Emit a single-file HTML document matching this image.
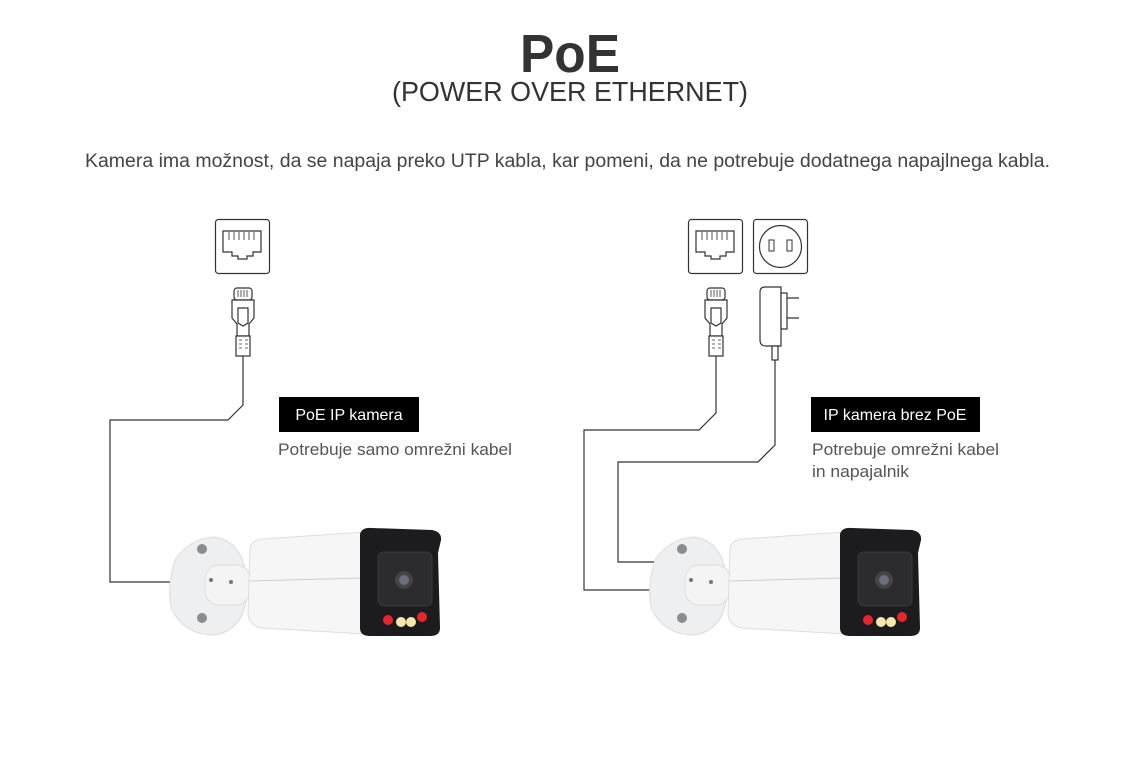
<!DOCTYPE html>
<html><head><meta charset="utf-8"><style>
body{margin:0;background:#fff;width:1140px;height:762px;overflow:hidden;font-family:"Liberation Sans",sans-serif}
</style></head><body>
<svg width="1140" height="762" viewBox="0 0 1140 762" xmlns="http://www.w3.org/2000/svg">
<defs>
<g id="jack">
 <rect x="0.5" y="0.5" width="54" height="54" rx="3" fill="#fff" stroke="#333" stroke-width="1.2"/>
 <path d="M8 12 H46 V33 H38 V37 H32 V40 H23 V37 H17 V33 H8 Z" fill="none" stroke="#333" stroke-width="1.2"/>
 <path d="M14 13 V21 M19 13 V21 M24 13 V21 M29 13 V21 M34 13 V21 M39 13 V21" stroke="#555" stroke-width="1"/>
</g>
<g id="plug" fill="#fff" stroke="#333" stroke-width="1.2">
 <rect x="-9" y="0" width="18" height="12" rx="3"/>
 <path d="M-5 2 V9 M-2 2 V9 M1 2 V9 M4 2 V9" stroke-width="0.8"/>
 <path d="M-11 12 H11 V30 L6 36 V48 H-6 V36 L-11 30 Z"/>
 <path d="M-5 35 V20 H5 V35 L0 38 Z"/>
 <rect x="-7" y="48" width="14" height="20"/>
 <path d="M-4 52 h3 M-4 56 h3 M-4 60 h3 M2 52 h3 M2 56 h3 M2 60 h3" stroke-width="0.8"/>
</g>
<g id="cam">
 <path d="M175 560 Q190 538 215 537 Q242 542 246 575 L246 600 Q242 630 215 635 Q185 635 172 610 Q166 590 175 560 Z" fill="#eeeff1" stroke="#ddd"/>
 <circle cx="202" cy="549" r="5" fill="#8a8c90"/>
 <circle cx="202" cy="618" r="5" fill="#8a8c90"/>
 <rect x="205" y="565" width="45" height="40" rx="14" fill="#f4f4f5" stroke="#ddd"/>
 <circle cx="211" cy="580" r="2" fill="#777"/><circle cx="231" cy="582" r="2" fill="#777"/>
 <path d="M250 548 Q252 540 262 539 L365 532 L365 634 L262 628 Q250 626 248 615 Z" fill="#f6f6f7" stroke="#ddd"/>
 <path d="M250 581 L362 578" stroke="#ccc"/>
 <path d="M360 534 Q362 527 372 528 L432 530 Q442 532 441 540 L438 553 L440 628 Q440 636 430 636 L370 636 Q360 636 360 628 Z" fill="#1c1c1e"/>
 <rect x="378" y="552" width="54" height="54" rx="6" fill="#2c2c2f" stroke="#3a3a3d"/>
 <circle cx="404" cy="580" r="9" fill="#444"/>
 <circle cx="404" cy="580" r="5" fill="#6a7080"/>
 <circle cx="388" cy="620" r="5" fill="#e8262a"/>
 <circle cx="401" cy="622" r="5" fill="#f6e8a8"/>
 <circle cx="411" cy="622" r="5" fill="#f6e8a8"/>
 <circle cx="422" cy="617" r="5" fill="#e8262a"/>
</g>
</defs>

<text x="520" y="72" font-size="54" font-weight="bold" fill="#333" textLength="100" lengthAdjust="spacingAndGlyphs">PoE</text>
<text x="392" y="101" font-size="28" fill="#333" textLength="356" lengthAdjust="spacingAndGlyphs">(POWER OVER ETHERNET)</text>
<text x="85" y="167" font-size="19" fill="#444" textLength="965" lengthAdjust="spacingAndGlyphs">Kamera ima možnost, da se napaja preko UTP kabla, kar pomeni, da ne potrebuje dodatnega napajlnega kabla.</text>

<use href="#jack" x="215" y="219"/>
<use href="#plug" x="243" y="288"/>
<path d="M243 356 V405 L228 420 H110 V582 H175" fill="none" stroke="#333" stroke-width="1.2"/>
<use href="#cam"/>
<rect x="279" y="397" width="140" height="35" fill="#000"/>
<text x="349" y="420" text-anchor="middle" font-size="16" fill="#fff">PoE IP kamera</text>
<text x="278" y="455" font-size="17" fill="#555" textLength="234" lengthAdjust="spacingAndGlyphs">Potrebuje samo omrežni kabel</text>

<use href="#jack" x="688" y="219"/>
<rect x="753.5" y="219.5" width="54" height="54" rx="3" fill="#fff" stroke="#333" stroke-width="1.2"/>
<circle cx="780.5" cy="246.5" r="21" fill="none" stroke="#333" stroke-width="1.2"/>
<rect x="769" y="240" width="5" height="11" fill="none" stroke="#333"/>
<rect x="787" y="240" width="5" height="11" fill="none" stroke="#333"/>
<use href="#plug" x="716" y="288"/>
<g fill="#fff" stroke="#333" stroke-width="1.2">
 <path d="M760 292 Q760 287 765 287 L781 287 L781 346 H766 Q760 346 760 340 Z"/>
 <rect x="781" y="293" width="6" height="36"/>
 <path d="M787 298 H799 M787 318 H799"/>
 <rect x="772" y="346" width="6" height="14"/>
</g>
<path d="M716 356 V413 L699 430 H584 V590 H655" fill="none" stroke="#333" stroke-width="1.2"/>
<path d="M775 360 V445 L758 462 H618 V562 H655" fill="none" stroke="#333" stroke-width="1.2"/>
<use href="#cam" x="480"/>
<rect x="811" y="397" width="169" height="35" fill="#000"/>
<text x="895" y="420" text-anchor="middle" font-size="16" fill="#fff">IP kamera brez PoE</text>
<text x="812" y="455" font-size="17" fill="#555" textLength="187" lengthAdjust="spacingAndGlyphs">Potrebuje omrežni kabel</text>
<text x="812" y="477" font-size="17" fill="#555" textLength="97" lengthAdjust="spacingAndGlyphs">in napajalnik</text>
</svg>
</body></html>
